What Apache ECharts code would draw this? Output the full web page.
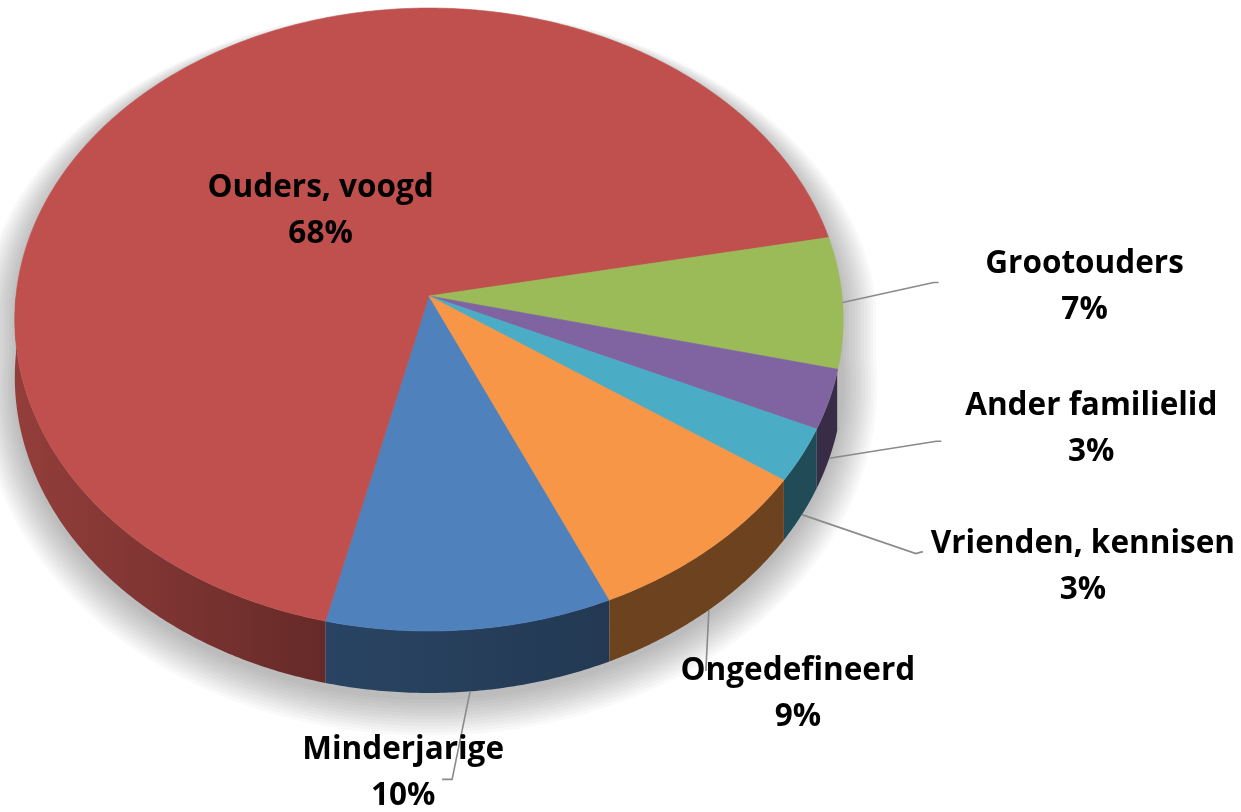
<!DOCTYPE html>
<html>
<head>
<meta charset="utf-8">
<title>Ouders, voogd</title>
<script src="https://cdn.jsdelivr.net/npm/echarts@6/dist/echarts.min.js"></script>
<style>
  html, body { margin: 0; padding: 0; background: #fff; }
  #chart { width: 1241px; height: 812px; }
</style>
</head>
<body>
<div id="chart"></div>
<script>
// data (order as in the sheet, slices run clockwise)
var categories = ['Minderjarige', 'Ouders, voogd', 'Grootouders', 'Ander familielid', 'Vrienden, kennisen', 'Ongedefineerd'];
var values = [10.4, 68.2, 6.8, 3.1, 2.8, 8.7];
var colors = ['#4F81BD', '#C0504D', '#9BBB59', '#8064A2', '#4BACC6', '#F79646'];

// 3d look of the pie
var CX = 429, CY = 296;      // apex
var RX = 413, RY = 309.7;    // radii of the top face
var PERSP = 0.0755;          // perspective factor
var DEPTH = 57.3;            // thickness
var START = 66;              // first slice starts here (deg, clockwise from 3 o'clock)

// label placement, offsets from the leader start point
var labelLayout = [
    { text: [-67, 82], line: [[-18, 88], [-28, 88]] },
    { inside: 0.4 },
    { text: [242, -15], line: [[91, -20], [96, -20]] },
    { text: [262, -29], line: [[107, -17], [112, -17]] },
    { text: [281, 52], line: [[114, 39], [121, 37]] },
    { text: [89, 84], line: [[-3, 61]] }
];

var total = values.reduce(function (a, b) { return a + b; }, 0);
var angles = [];
var acc = 0;
values.forEach(function (v) {
    var a0 = START + acc / total * 360;
    acc += v;
    angles.push([a0, START + acc / total * 360]);
});

function proj(deg, drop, gx, gy) {
    gx = gx || 0;
    gy = gy || 0;
    var t = deg * Math.PI / 180;
    var u = Math.cos(t), v = Math.sin(t);
    var d = 1 - PERSP * v;
    return [CX + (RX + gx) * u / d, CY + (RY + gy) * v / d + (drop ? DEPTH / d : 0)];
}

function arc(a, b, drop, gx, gy) {
    var pts = [];
    var n = Math.max(2, Math.ceil(Math.abs(b - a) / 0.5));
    for (var k = 0; k <= n; k++) {
        pts.push(proj(a + (b - a) * k / n, drop, gx, gy));
    }
    return pts;
}

function shade(hex, f) {
    var r = parseInt(hex.substr(1, 2), 16), g = parseInt(hex.substr(3, 2), 16), b = parseInt(hex.substr(5, 2), 16);
    return 'rgb(' + Math.round(r * f) + ',' + Math.round(g * f) + ',' + Math.round(b * f) + ')';
}

function wallFactor(deg) {
    var u = Math.cos(deg * Math.PI / 180);
    return u < 0 ? 0.45 - 0.32 * u : 0.44;
}

var labelFont = 'bold 31.5px "Open Sans"';

function renderItem(params, api) {
    var i = params.dataIndex;
    var a0 = angles[i][0], a1 = angles[i][1];
    var children = [];

    // front wall, only the part facing the viewer
    [0, 360].forEach(function (base) {
        var s = Math.max(a0, base + 14), e = Math.min(a1, base + 180);
        if (e - s <= 0.01) return;
        var pts = arc(s, e, false).concat(arc(e, s, true));
        children.push({
            type: 'polygon', z2: 1,
            shape: { points: pts },
            style: {
                fill: new echarts.graphic.LinearGradient(0, 0, 1, 0, [
                    { offset: 0, color: shade(colors[i], wallFactor(e)) },
                    { offset: 1, color: shade(colors[i], wallFactor(s)) }
                ])
            }
        });
    });

    // top face
    children.push({
        type: 'polygon', z2: 5,
        shape: { points: [[CX, CY]].concat(arc(a0, a1, false)) },
        style: { fill: colors[i], stroke: colors[i], lineWidth: 0.6 }
    });

    // label
    var mid = (a0 + a1) / 2;
    var lay = labelLayout[i];
    var pct = Math.round(api.value(0) / total * 100) + '%';
    var tx, ty;
    if (lay.inside) {
        var rim = proj(mid, false);
        tx = CX + (rim[0] - CX) * lay.inside;
        ty = CY + (rim[1] - CY) * lay.inside;
    } else {
        var p0 = proj(mid, Math.sin(mid * Math.PI / 180) > 0.15);
        var linePts = [p0].concat(lay.line.map(function (o) { return [p0[0] + o[0], p0[1] + o[1]]; }));
        children.push({
            type: 'polyline', z2: 10,
            shape: { points: linePts },
            style: { stroke: '#8a8a8a', lineWidth: 1.6, fill: null }
        });
        tx = p0[0] + lay.text[0];
        ty = p0[1] + lay.text[1];
    }
    children.push({
        type: 'text', z2: 11, x: tx, y: ty - 23,
        style: { text: categories[i], font: labelFont, fill: '#000', align: 'center', verticalAlign: 'middle' }
    });
    children.push({
        type: 'text', z2: 11, x: tx, y: ty + 23,
        style: { text: pct, font: labelFont, fill: '#000', align: 'center', verticalAlign: 'middle' }
    });

    return { type: 'group', children: children };
}

// soft drop shadow: stacked, slightly larger outlines of the cake
var shadowLayers = [];
for (var g = 34; g >= 1; g -= 3) {
    var pts = arc(180, 360, false, g, g * 0.2).concat(arc(0, 180, true, g, g)).map(function (p) { return [p[0], p[1] + 6]; });
    shadowLayers.push({
        type: 'polygon',
        z: -10,
        silent: true,
        shape: { points: pts },
        style: { fill: 'rgba(0,0,0,0.022)' }
    });
}

var myChart = echarts.init(document.getElementById('chart'));
var option = {
    animation: false,
    backgroundColor: '#ffffff',
    graphic: shadowLayers,
    series: [{
        type: 'custom',
        coordinateSystem: 'none',
        silent: true,
        renderItem: renderItem,
        data: values.map(function (v, i) { return { name: categories[i], value: [v] }; })
    }]
};
myChart.setOption(option);
</script>
</body>
</html>
